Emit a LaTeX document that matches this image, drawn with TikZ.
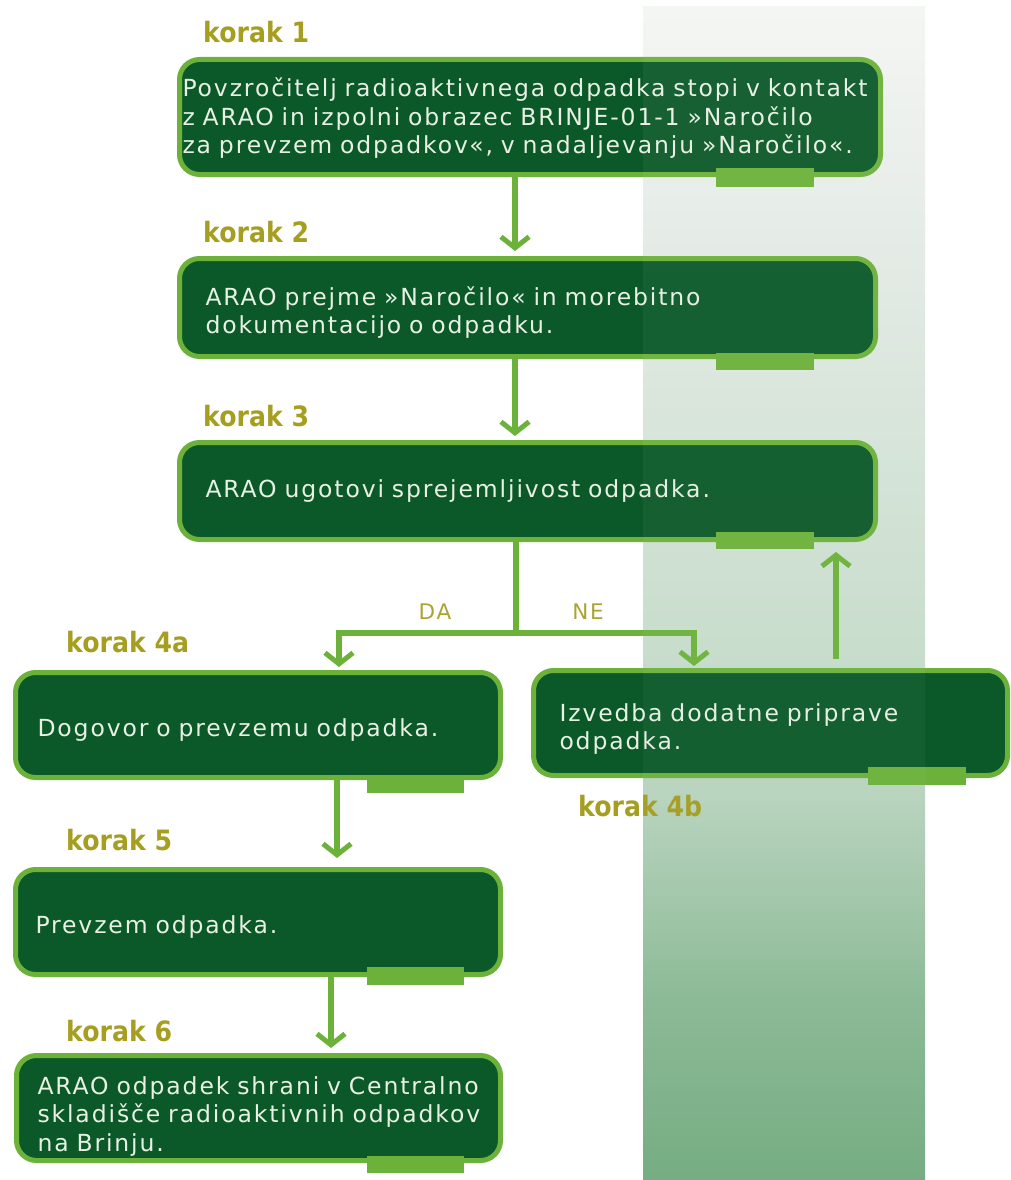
\documentclass[tikz,border=0pt]{standalone}
\usepackage{fontspec}
\usetikzlibrary{arrows.meta,calc}
\newfontfamily\boxfont{DejaVu Sans}[LetterSpace=8]
\newfontfamily\korakfont{DejaVu Sans}[FakeStretch=0.9]
\newcommand\mystrut[1]{\rule{0pt}{#1}}
\definecolor{boxfill}{RGB}{11,89,41}
\definecolor{boxline}{RGB}{108,178,58}
\definecolor{boxtext}{RGB}{232,240,228}
\definecolor{korakcol}{RGB}{166,158,32}
\definecolor{danecol}{RGB}{170,164,52}
\definecolor{cA}{RGB}{118,173,130}
\definecolor{cB}{RGB}{140,186,150}
\definecolor{cC}{RGB}{162,199,170}
\definecolor{cD}{RGB}{184,211,190}
\definecolor{cE}{RGB}{200,221,204}
\definecolor{cF}{RGB}{214,228,217}
\definecolor{cG}{RGB}{228,235,229}
\definecolor{cH}{RGB}{244,246,244}
\pgfdeclareverticalshading{colshade}{100bp}{color(0bp)=(cA); color(25bp)=(cA); color(32.7bp)=(cB); color(36.9bp)=(cC); color(41.2bp)=(cD); color(47.6bp)=(cE); color(56.1bp)=(cF); color(64.6bp)=(cG); color(75bp)=(cH); color(100bp)=(cH)}
\tikzset{
  box/.style={rectangle, rounded corners=20pt, draw=boxline, line width=5pt, fill=boxfill, text=boxtext, font=\boxfont\fontsize{23.5}{28.5}\selectfont, align=left, inner ysep=0pt},
  korak/.style={font=\korakfont\bfseries\fontsize{28}{32}\selectfont, text=korakcol, anchor=base west, inner sep=0pt},
  lbl/.style={font=\boxfont\fontsize{21.5}{24}\selectfont, text=danecol, inner sep=0pt},
  bar/.style={fill=boxline},
  flow/.style={draw=boxline, line width=6pt},
  arr/.style={draw=boxline, line width=6pt, -{Straight Barb[length=11pt,width=28pt,line width=5pt]}}
}
\begin{document}
\begin{tikzpicture}[x=1pt,y=-1pt]
\useasboundingbox (0,0) rectangle (1011,1180);
\shade[shading=colshade] (643,7) rectangle (925,1180);

\node[box, minimum height=115pt, text width=695pt, inner xsep=3pt] (b1) at (530,117)
 {\mystrut{21pt}Povzročitelj radioaktivnega odpadka stopi v kontakt\\z ARAO in izpolni obrazec BRINJE-01-1 »Naročilo\\za prevzem odpadkov«, v nadaljevanju »Naročilo«.};
\node[box, minimum height=98pt, text width=644pt, inner xsep=26pt] (b2) at (527.5,307.5)
 {\mystrut{29pt}ARAO prejme »Naročilo« in morebitno\\dokumentacijo o odpadku.};
\node[box, minimum height=97pt, text width=644pt, inner xsep=26pt] (b3) at (527.5,491)
 {ARAO ugotovi sprejemljivost odpadka.};
\node[box, minimum height=105pt, text width=441pt, inner xsep=22pt] (b4a) at (258,725)
 {\mystrut{28pt}Dogovor o prevzemu odpadka.};
\node[box, minimum height=105pt, text width=422pt, inner xsep=26pt] (b4b) at (770.5,723)
 {\mystrut{30pt}Izvedba dodatne priprave\\odpadka.};
\node[box, minimum height=105pt, text width=445pt, inner xsep=20pt] (b5) at (258,922)
 {\mystrut{28pt}Prevzem odpadka.};
\node[box, minimum height=105pt, text width=442pt, inner xsep=21pt] (b6) at (258.5,1108)
 {\mystrut{34pt}ARAO odpadek shrani v Centralno\\skladišče radioaktivnih odpadkov\\na Brinju.};

\fill[bar] (716,168) rectangle (814,187);
\fill[bar] (716,353) rectangle (814,370);
\fill[bar] (716,532) rectangle (814,549);
\fill[bar] (367,776) rectangle (464,793);
\fill[bar] (868,767) rectangle (966,785);
\fill[bar] (367,967) rectangle (464,985);
\fill[bar] (367,1156) rectangle (464,1173);

\node[korak] (k1) at (203,43) {korak 1};
\node[korak] (k2) at (203,242) {korak 2};
\node[korak] (k3) at (203,426) {korak 3};
\node[korak] (k4a) at (66,652) {korak 4a};
\node[korak] (k4b) at (578,816) {korak 4b};
\node[korak] (k5) at (66,850) {korak 5};
\node[korak] (k6) at (66,1041) {korak 6};

\node[lbl] (lda) at (435,612) {DA};
\node[lbl] (lne) at (588,612) {NE};

\coordinate (xm) at (515,0);
\coordinate (s) at (516,633);
\coordinate (da) at (339,633);
\coordinate (ne) at (694,633);
\coordinate (xu) at (836,0);
\coordinate (x45) at (337,0);
\coordinate (x56) at (331,0);

\draw[arr] (b1.south -| xm) -- ($(b2.north -| xm)+(0,-5)$);
\draw[arr] (b2.south -| xm) -- ($(b3.north -| xm)+(0,-4)$);
\draw[flow] (b3.south -| s) -- (s);
\draw[arr] (s) -- (da) -- ($(da |- b4a.north)+(0,-3)$);
\draw[arr] (s) -- (ne) -- ($(ne |- b4b.north)+(0,-2)$);
\draw[arr] ($(b4b.north -| xu)+(0,-9)$) -- ($(b3.south -| xu)+(0,10)$);
\draw[arr] (b4a.south -| x45) -- ($(b5.north -| x45)+(0,-9)$);
\draw[arr] (b5.south -| x56) -- ($(b6.north -| x56)+(0,-5)$);

\shade[shading=colshade, fill opacity=0.05] (643,7) rectangle (925,1180);
\end{tikzpicture}
\end{document}
